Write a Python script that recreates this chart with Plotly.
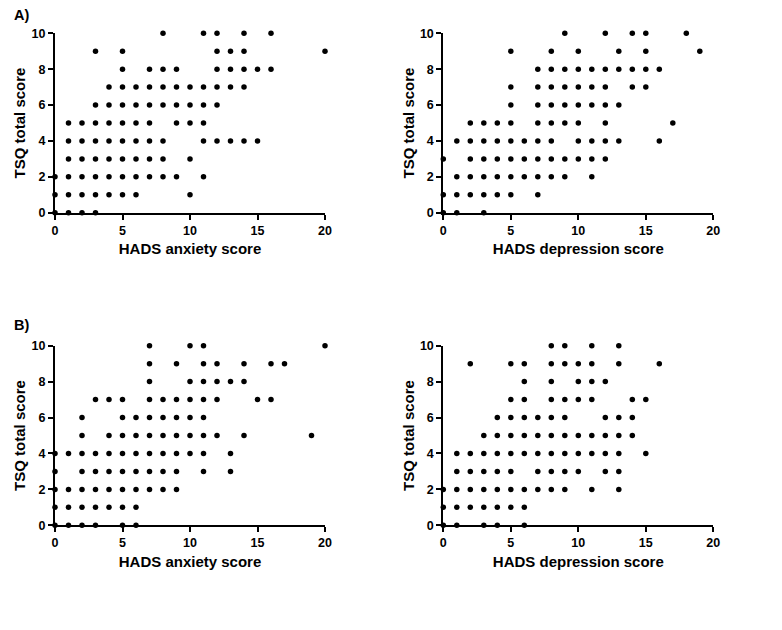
import plotly.graph_objects as go

# Panel A, anxiety: TSQ score -> list of HADS anxiety scores
a_anx_rows = {
    10: [8, 11, 12, 14, 16],
    9: [3, 5, 12, 13, 14, 20],
    8: [5, 7, 8, 9, 12, 13, 14, 15, 16],
    7: [4, 5, 6, 7, 8, 9, 10, 11, 12, 13, 14],
    6: [3, 4, 5, 6, 7, 8, 9, 10, 11, 12],
    5: [1, 2, 3, 4, 5, 6, 7, 9, 10, 11],
    4: [1, 2, 3, 4, 5, 6, 7, 8, 11, 12, 13, 14, 15],
    3: [1, 2, 3, 4, 5, 6, 7, 8, 10],
    2: [0, 1, 2, 3, 4, 5, 6, 7, 8, 9, 11],
    1: [0, 1, 2, 3, 4, 5, 6, 10],
    0: [0, 1, 2, 3],
}
# Panel A, depression
a_dep_rows = {
    10: [9, 12, 14, 15, 18],
    9: [5, 8, 10, 13, 15, 19],
    8: [7, 8, 9, 10, 11, 12, 13, 14, 15, 16],
    7: [5, 7, 8, 9, 10, 11, 12, 14, 15],
    6: [5, 7, 8, 9, 10, 11, 12, 13],
    5: [2, 3, 4, 5, 7, 8, 9, 10, 12, 17],
    4: [1, 2, 3, 4, 5, 6, 7, 8, 10, 11, 12, 13, 16],
    3: [0, 2, 3, 4, 5, 6, 7, 8, 9, 10, 11, 12],
    2: [1, 2, 3, 4, 5, 6, 7, 8, 9, 11],
    1: [0, 1, 2, 3, 4, 5, 7],
    0: [0, 1, 3],
}
# Panel B, anxiety
b_anx_rows = {
    10: [7, 10, 11, 20],
    9: [7, 9, 11, 12, 14, 16, 17],
    8: [7, 10, 11, 12, 13, 14],
    7: [3, 4, 5, 7, 8, 9, 10, 11, 12, 15, 16],
    6: [2, 5, 6, 7, 8, 9, 10, 11],
    5: [2, 4, 5, 6, 7, 8, 9, 10, 11, 12, 14, 19],
    4: [0, 1, 2, 3, 4, 5, 6, 7, 8, 9, 10, 11, 13],
    3: [0, 2, 3, 4, 5, 6, 7, 8, 9, 11, 13],
    2: [0, 1, 2, 3, 4, 5, 6, 7, 8, 9],
    1: [0, 1, 2, 3, 4, 5, 6],
    0: [0, 1, 2, 3, 5, 6],
}
# Panel B, depression
b_dep_rows = {
    10: [8, 9, 11, 13],
    9: [2, 5, 6, 8, 9, 10, 11, 13, 16],
    8: [6, 8, 10, 11, 12],
    7: [5, 6, 8, 9, 10, 11, 14, 15],
    6: [4, 5, 6, 7, 8, 9, 12, 13, 14],
    5: [3, 4, 5, 6, 7, 8, 9, 10, 11, 12, 13, 14],
    4: [1, 2, 3, 4, 5, 6, 7, 8, 9, 10, 11, 12, 13, 15],
    3: [1, 2, 3, 4, 5, 7, 8, 9, 10, 12, 13],
    2: [0, 1, 2, 3, 4, 5, 6, 7, 8, 9, 11, 13],
    1: [0, 1, 2, 3, 4, 5, 6],
    0: [0, 1, 3, 4, 6],
}

x_tick_vals = [0, 5, 10, 15, 20]
y_tick_vals = [0, 2, 4, 6, 8, 10]
x_titles = ["HADS anxiety score", "HADS depression score"]
y_title = "TSQ total score"
panel_labels = ["A)", "B)"]


def flatten(rows):
    xs, ys = [], []
    for yv, xl in rows.items():
        for xv in xl:
            xs.append(xv)
            ys.append(yv)
    return xs, ys


W, H = 782, 630
OFF = 8  # page body margin offset
panels = [
    (a_anx_rows, x_titles[0], (55, 325), (33.3, 212.7)),
    (a_dep_rows, x_titles[1], (443.3, 713.3), (33.3, 212.7)),
    (b_anx_rows, x_titles[0], (55, 325), (345.7, 525.3)),
    (b_dep_rows, x_titles[1], (443.3, 713.3), (345.7, 525.3)),
]

font_fam = "Liberation Sans, Arial, sans-serif"
fig = go.Figure()
layout = {}
for i, (rows, xt, (x0, x1), (ytop, ybot)) in enumerate(panels):
    n = "" if i == 0 else str(i + 1)
    xs, ys = flatten(rows)
    fig.add_trace(go.Scatter(
        x=xs, y=ys, mode="markers",
        marker=dict(color="black", size=5.5),
        xaxis="x" + n, yaxis="y" + n, cliponaxis=False, showlegend=False,
    ))
    common = dict(
        showline=True, linecolor="black", linewidth=2,
        ticks="outside", ticklen=5, tickwidth=2, tickcolor="black",
        showgrid=False, zeroline=False, fixedrange=True, automargin=False,
        tickfont=dict(family=font_fam, size=12.5, color="black", weight="bold"),
    )
    layout["xaxis" + n] = dict(
        common, range=[0, 20], tickvals=x_tick_vals,
        domain=[(x0 - OFF) / W, (x1 - OFF) / W], anchor="y" + n,
        title=dict(text=xt, standoff=7,
                   font=dict(family=font_fam, size=15, color="black", weight="bold")),
    )
    layout["yaxis" + n] = dict(
        common, range=[0, 10], tickvals=y_tick_vals,
        domain=[1 - (ybot - OFF) / H, 1 - (ytop - OFF) / H], anchor="x" + n,
        title=dict(text=y_title, standoff=2,
                   font=dict(family=font_fam, size=15, color="black", weight="bold")),
    )

fig.update_layout(
    width=W, height=H,
    margin=dict(l=0, r=0, t=0, b=0),
    plot_bgcolor="white", paper_bgcolor="white",
    **layout,
)
for lbl, ypx in zip(panel_labels, [15, 325]):
    fig.add_annotation(
        text=lbl, xref="paper", yref="paper", x=(12 - OFF) / W, y=1 - (ypx - OFF) / H,
        xanchor="left", yanchor="middle", showarrow=False,
        font=dict(family=font_fam, size=14.5, color="black", weight="bold"),
    )

fig.write_html("out.html")
